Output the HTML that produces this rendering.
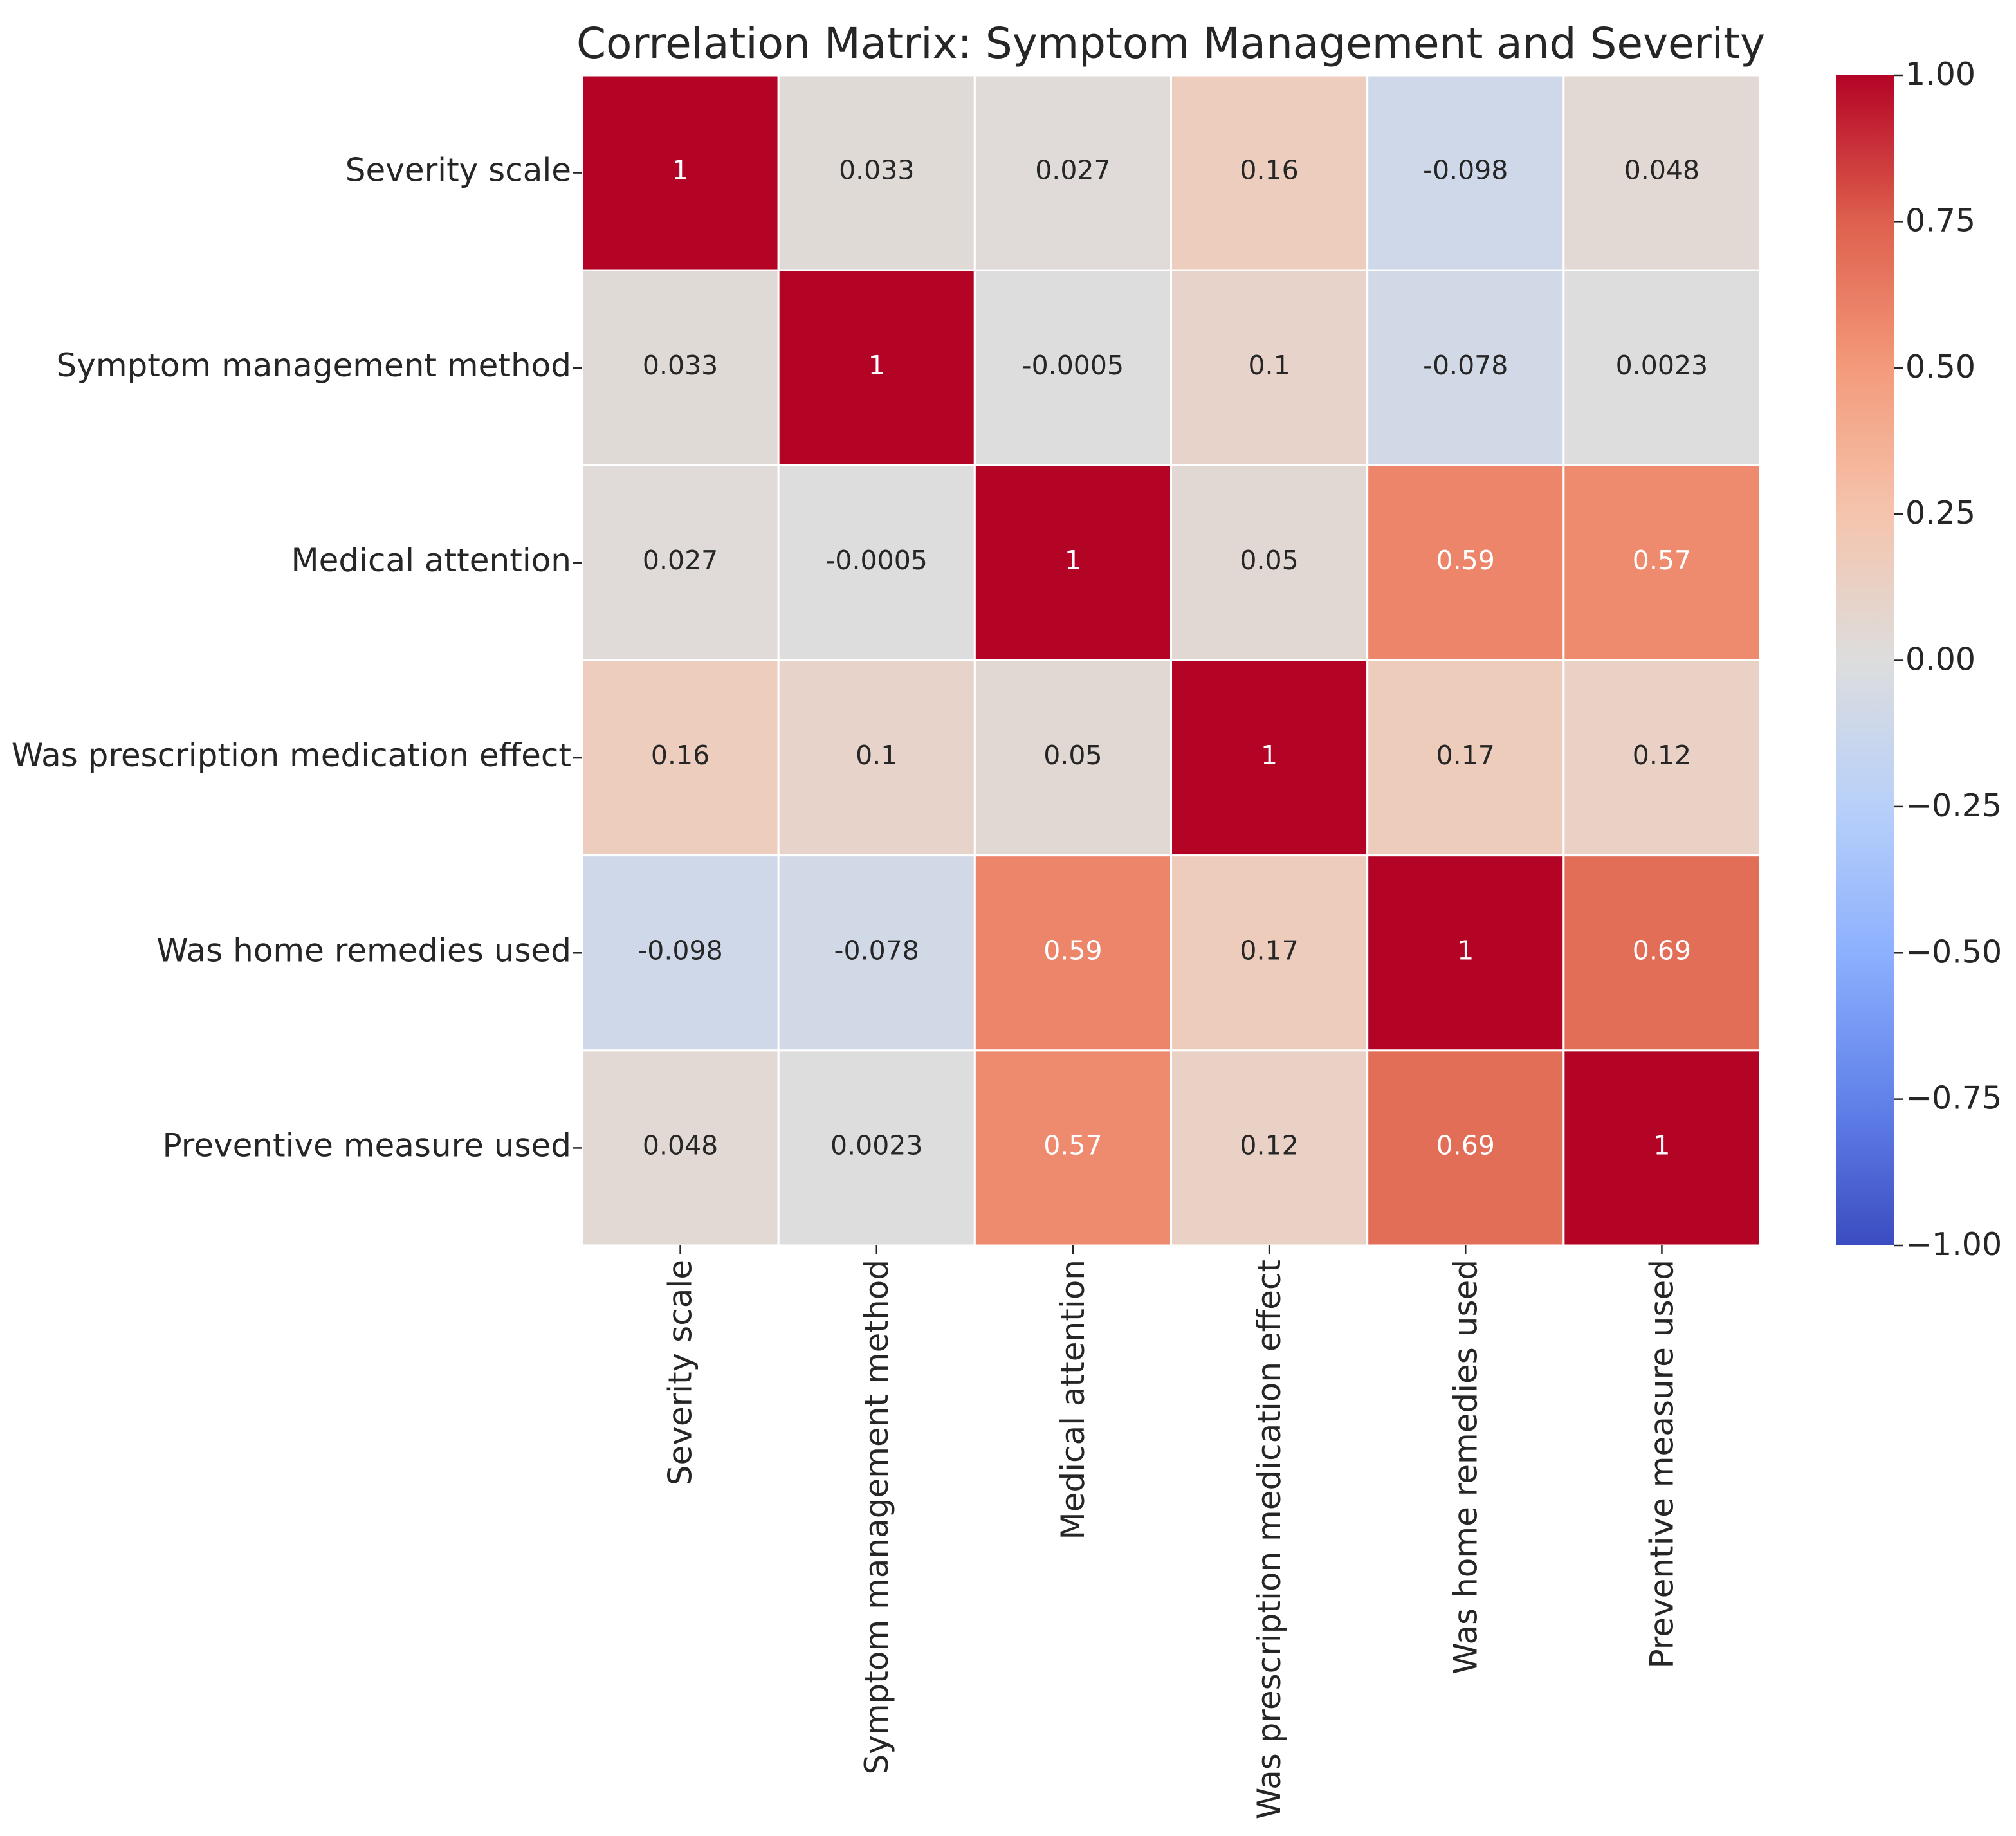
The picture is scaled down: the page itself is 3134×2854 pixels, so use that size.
<!DOCTYPE html>
<html><head><meta charset="utf-8">
<style>
html,body{margin:0;padding:0;background:#fff;}
svg{display:block;font-family:"DejaVu Sans","Liberation Sans",sans-serif;}
</style></head>
<body>
<svg id="chart" width="3134" height="2854" viewBox="0 0 3134 2854" xmlns="http://www.w3.org/2000/svg">
<rect width="3134" height="2854" fill="#fff"/>
<text x="1820" y="90" font-size="66" fill="#262626" text-anchor="middle">Correlation Matrix: Symptom Management and Severity</text>
<defs>
<linearGradient id="cbgrad" x1="0" y1="1" x2="0" y2="0">
<stop offset="0" stop-color="rgb(59,76,192)"/>
<stop offset="0.125" stop-color="rgb(98,130,234)"/>
<stop offset="0.25" stop-color="rgb(141,176,254)"/>
<stop offset="0.375" stop-color="rgb(184,208,249)"/>
<stop offset="0.5" stop-color="rgb(221,221,221)"/>
<stop offset="0.625" stop-color="rgb(245,196,173)"/>
<stop offset="0.75" stop-color="rgb(244,154,123)"/>
<stop offset="0.875" stop-color="rgb(222,96,77)"/>
<stop offset="1" stop-color="rgb(180,4,38)"/>
</linearGradient>
</defs>
<g id="cells"></g>
<g id="labels"></g>
<rect x="2854" y="117" width="90" height="1819" fill="url(#cbgrad)"/>
<g id="cbticks"></g>
</svg>
<script>
const categories = ["Severity scale","Symptom management method","Medical attention","Was prescription medication effect","Was home remedies used","Preventive measure used"];
const row0 = [1, 0.033, 0.027, 0.16, -0.098, 0.048];
const row1 = [0.033, 1, -0.0005, 0.1, -0.078, 0.0023];
const row2 = [0.027, -0.0005, 1, 0.05, 0.59, 0.57];
const row3 = [0.16, 0.1, 0.05, 1, 0.17, 0.12];
const row4 = [-0.098, -0.078, 0.59, 0.17, 1, 0.69];
const row5 = [0.048, 0.0023, 0.57, 0.12, 0.69, 1];
const matrix = [row0,row1,row2,row3,row4,row5];
const cbTickValues = [1, 0.75, 0.5, 0.25, 0, -0.25, -0.5, -0.75, -1];
const cbTickLabels = ["1.00","0.75","0.50","0.25","0.00","\u22120.25","\u22120.50","\u22120.75","\u22121.00"];

const NS = "http://www.w3.org/2000/svg";
const L = 905, R = 2736, T = 117, B = 1936;
const n = categories.length;
const cw = (R-L)/n, ch = (B-T)/n;
const xPos = i => L + i*cw;
const yPos = i => T + i*ch;
const cbY = v => B - (v+1)/2*(B-T);
const stops = [[59,76,192],[98,130,234],[141,176,254],[184,208,249],[221,221,221],[245,196,173],[244,154,123],[222,96,77],[180,4,38]];
function color(v){
  let t = Math.max(0,Math.min(1,(v+1)/2))*(stops.length-1);
  let i = Math.min(Math.floor(t), stops.length-2), f = t-i;
  const c = stops[i].map((a,k)=>Math.round(a+(stops[i+1][k]-a)*f));
  return `rgb(${c[0]},${c[1]},${c[2]})`;
}
function mk(tag, attrs, parent){
  const el = document.createElementNS(NS, tag);
  for (const k in attrs) el.setAttribute(k, attrs[k]);
  parent.appendChild(el); return el;
}
const cells = document.getElementById('cells');
const labels = document.getElementById('labels');
matrix.forEach((row, r) => {
  row.forEach((v, c) => {
    const rect = mk('rect', {x:xPos(c), y:yPos(r), width:cw, height:ch, fill:color(v), stroke:'#fff', 'stroke-width':3}, cells);
    
    
    const t = mk('text', {x:xPos(c)+cw/2, y:yPos(r)+ch/2+10, 'text-anchor':'middle', 'font-size':41, fill: v>0.5 ? '#fff' : '#262626'}, cells);
    t.textContent = String(v);
    
    
  });
});
categories.forEach((name, i) => {
  const yc = yPos(i)+ch/2;
  mk('line', {x1:L-14, x2:L, y1:yc, y2:yc, stroke:'#262626', 'stroke-width':2.5}, labels);
  const yl = mk('text', {x:L-17, y:yc+13, 'text-anchor':'end', 'font-size':50, fill:'#262626'}, labels);
  yl.textContent = name;
  
  
  const xc = xPos(i)+cw/2;
  mk('line', {x1:xc, x2:xc, y1:B, y2:B+14, stroke:'#262626', 'stroke-width':2.5}, labels);
  const xl = mk('text', {x:0, y:0, 'text-anchor':'end', 'font-size':50, fill:'#262626', transform:`translate(${xc+17},${B+22}) rotate(-90)`}, labels);
  xl.textContent = name;
  
  
});
const cbt = document.getElementById('cbticks');
cbTickValues.forEach((v, i) => {
  const y = cbY(v);
  mk('line', {x1:2944, x2:2958, y1:y, y2:y, stroke:'#262626', 'stroke-width':2.5}, cbt);
  const t = mk('text', {x:2962, y:y+15, 'font-size':49, fill:'#262626'}, cbt);
  t.textContent = cbTickLabels[i];
  
  
});
</script>
</body></html>
